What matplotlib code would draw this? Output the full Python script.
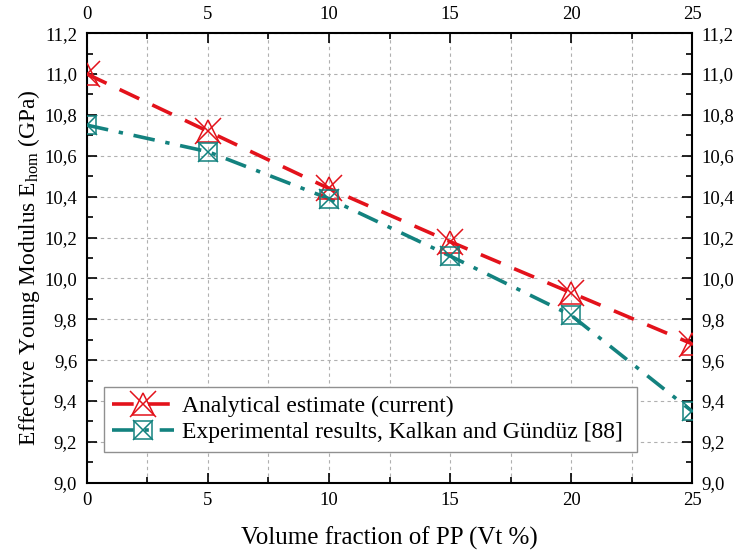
import matplotlib
matplotlib.use("Agg")
import matplotlib.pyplot as plt
from matplotlib.ticker import MultipleLocator, FuncFormatter

# Werte
vol_frac = [0, 5, 10, 15, 20, 25]
analytical = [11.00, 10.72, 10.44, 10.18, 9.93, 9.68]
experimental = [10.75, 10.62, 10.39, 10.11, 9.82, 9.35]

label_ana = "Analytical estimate (current)"
label_exp = "Experimental results, Kalkan and Gündüz [88]"

red = "#e3121b"
teal = "#13827f"

plt.rcParams["font.family"] = ["Liberation Serif", "DejaVu Serif"]
plt.rcParams["mathtext.fontset"] = "custom"
plt.rcParams["mathtext.rm"] = "Liberation Serif"
plt.rcParams["mathtext.it"] = "Liberation Serif:italic"

fig = plt.figure(figsize=(7.37, 5.53), dpi=100)
ax = fig.add_axes([0.118, 0.127, 0.821, 0.813])

l1, = ax.plot(vol_frac, analytical, color=red, lw=2.6, ls=(0, (6, 4)), zorder=3)
m1a, = ax.plot(vol_frac, analytical, ls="none", marker="^", ms=16, mfc="none",
               mec=red, mew=1.1, zorder=4)
m1b, = ax.plot(vol_frac, analytical, ls="none", marker="x", ms=19, mec=red,
               mew=1.1, zorder=4)

l2, = ax.plot(vol_frac, experimental, color=teal, lw=2.6, ls=(0, (6, 3, 1.2, 3)), zorder=3)
m2a, = ax.plot(vol_frac, experimental, ls="none", marker="s", ms=13, mfc="none",
               mec=teal, mew=1.1, zorder=4)
m2b, = ax.plot(vol_frac, experimental, ls="none", marker="x", ms=15, mec=teal,
               mew=1.1, zorder=4)

ax.set_xlim(0, 25)
ax.set_ylim(9.0, 11.2)
ax.xaxis.set_major_locator(MultipleLocator(5))
ax.xaxis.set_minor_locator(MultipleLocator(2.5))
ax.yaxis.set_major_locator(MultipleLocator(0.2))
ax.yaxis.set_minor_locator(MultipleLocator(0.1))
ax.yaxis.set_major_formatter(FuncFormatter(lambda v, p: f"{v:.1f}".replace(".", ",")))

ax.tick_params(which="both", direction="in", top=True, right=True,
               labeltop=True, labelright=True, labelsize=13.5, width=1.2)
ax.tick_params(which="major", length=7, pad=7)
ax.tick_params(which="minor", length=4)
for s in ax.spines.values():
    s.set_linewidth(1.5)

ax.grid(which="both", axis="x", color="#b0b0b0", ls=(0, (3, 3)), lw=0.8, zorder=0)
ax.grid(which="major", axis="y", color="#b0b0b0", ls=(0, (3, 3)), lw=0.8, zorder=0)

ax.set_xlabel("Volume fraction of PP (Vt %)", fontsize=18, labelpad=12)
ax.set_ylabel(r"Effective Young Modulus E$_{\mathrm{hom}}$ (GPa)", fontsize=16.8)
ax.yaxis.set_label_coords(-0.074, 0.478)

leg = ax.legend([(l1, m1a, m1b), (l2, m2a, m2b)], [label_ana, label_exp],
                loc="lower left", bbox_to_anchor=(0.028, 0.069, 0.881, 0.1),
                mode="expand", fontsize=17, frameon=True, fancybox=False,
                edgecolor="#909090", framealpha=1, handlelength=2.6,
                handletextpad=0.35, borderpad=0.35, labelspacing=0.2,
                borderaxespad=0)
leg.get_frame().set_linewidth(1.0)
leg.set_zorder(5)

fig.savefig("out.png", dpi=100)
